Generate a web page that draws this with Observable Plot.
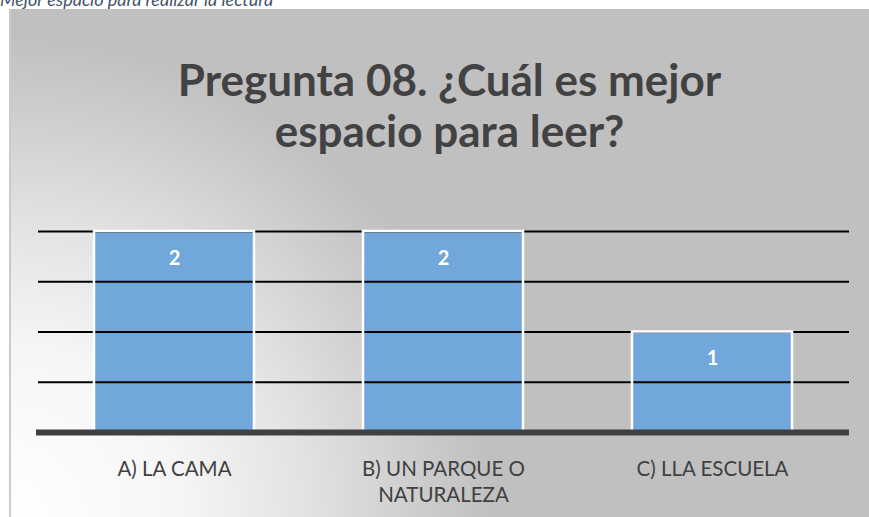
<!DOCTYPE html>
<html>
<head>
<meta charset="utf-8">
<script src="https://cdn.jsdelivr.net/npm/d3@7"></script>
<script src="https://cdn.jsdelivr.net/npm/@observablehq/plot@0.6"></script>
<style>
  html, body { margin: 0; padding: 0; background: #fff; width: 869px; height: 517px; overflow: hidden; }
  #caption { position: absolute; left: 0; top: -10px; font: italic 18px/18px Lato, "Open Sans", sans-serif; color: #44546a; white-space: nowrap; }
  #box { position: absolute; left: 9px; top: 9px; width: 860px; height: 508px; box-sizing: border-box;
         border-left: 2px solid #cacaca;
         background: radial-gradient(circle 480px at 0px 508px, #ffffff 0%, #f6f6f6 35%, #e2e2e2 62%, #cdcdcd 85%, #c0c0c0 100%); }
  #title { position: absolute; left: 20px; top: 54px; width: 859px; text-align: center;
           font: bold 44px/51px Lato, sans-serif; color: #424242; }
  #chart { position: absolute; left: 10px; top: 190px; }
</style>
</head>
<body>
<div id="caption">Mejor espacio para realizar la lectura</div>
<div id="box"></div>
<div id="title">Pregunta 08. ¿Cuál es mejor<br>espacio para leer?</div>
<div id="chart"></div>
<script>
const categories = ["A) LA CAMA", "B) UN PARQUE O\nNATURALEZA", "C) LLA ESCUELA"];
const values = [2, 2, 1];
const gridValues = [0.5, 1, 1.5, 2];

const data = categories.map((c, i) => ({cat: c, value: values[i]}));

const plot = Plot.plot({
  width: 859,
  height: 327,
  marginLeft: 28,
  marginRight: 20,
  marginTop: 41,
  marginBottom: 85,
  style: {background: "transparent", fontFamily: "Lato, sans-serif"},
  x: {domain: categories, paddingInner: 0.404, paddingOuter: 0.204, axis: null},
  y: {domain: [0, 2], axis: null},
  marks: [
    Plot.barY(data, {x: "cat", y: "value", fill: "#71a7db"}),
    Plot.ruleY(gridValues, {stroke: "#000", strokeWidth: 2.2}),
    Plot.barY(data, {x: "cat", y: "value", fill: "none", stroke: "#fff", strokeWidth: 2.5}),
    Plot.ruleY([0], {stroke: "#404040", strokeWidth: 6, insetLeft: -2}),
    Plot.text(data, {x: "cat", y: "value", text: d => String(d.value), dy: 27, fill: "#fff",
                     fontWeight: "bold", fontSize: 20, lineAnchor: "middle"}),
    Plot.text(data, {x: "cat", frameAnchor: "bottom", text: "cat", dy: 25, lineAnchor: "top",
                     lineHeight: 1.27, fontSize: 20.5, fill: "#404040"})
  ]
});
document.getElementById("chart").appendChild(plot);
</script>
</body>
</html>
